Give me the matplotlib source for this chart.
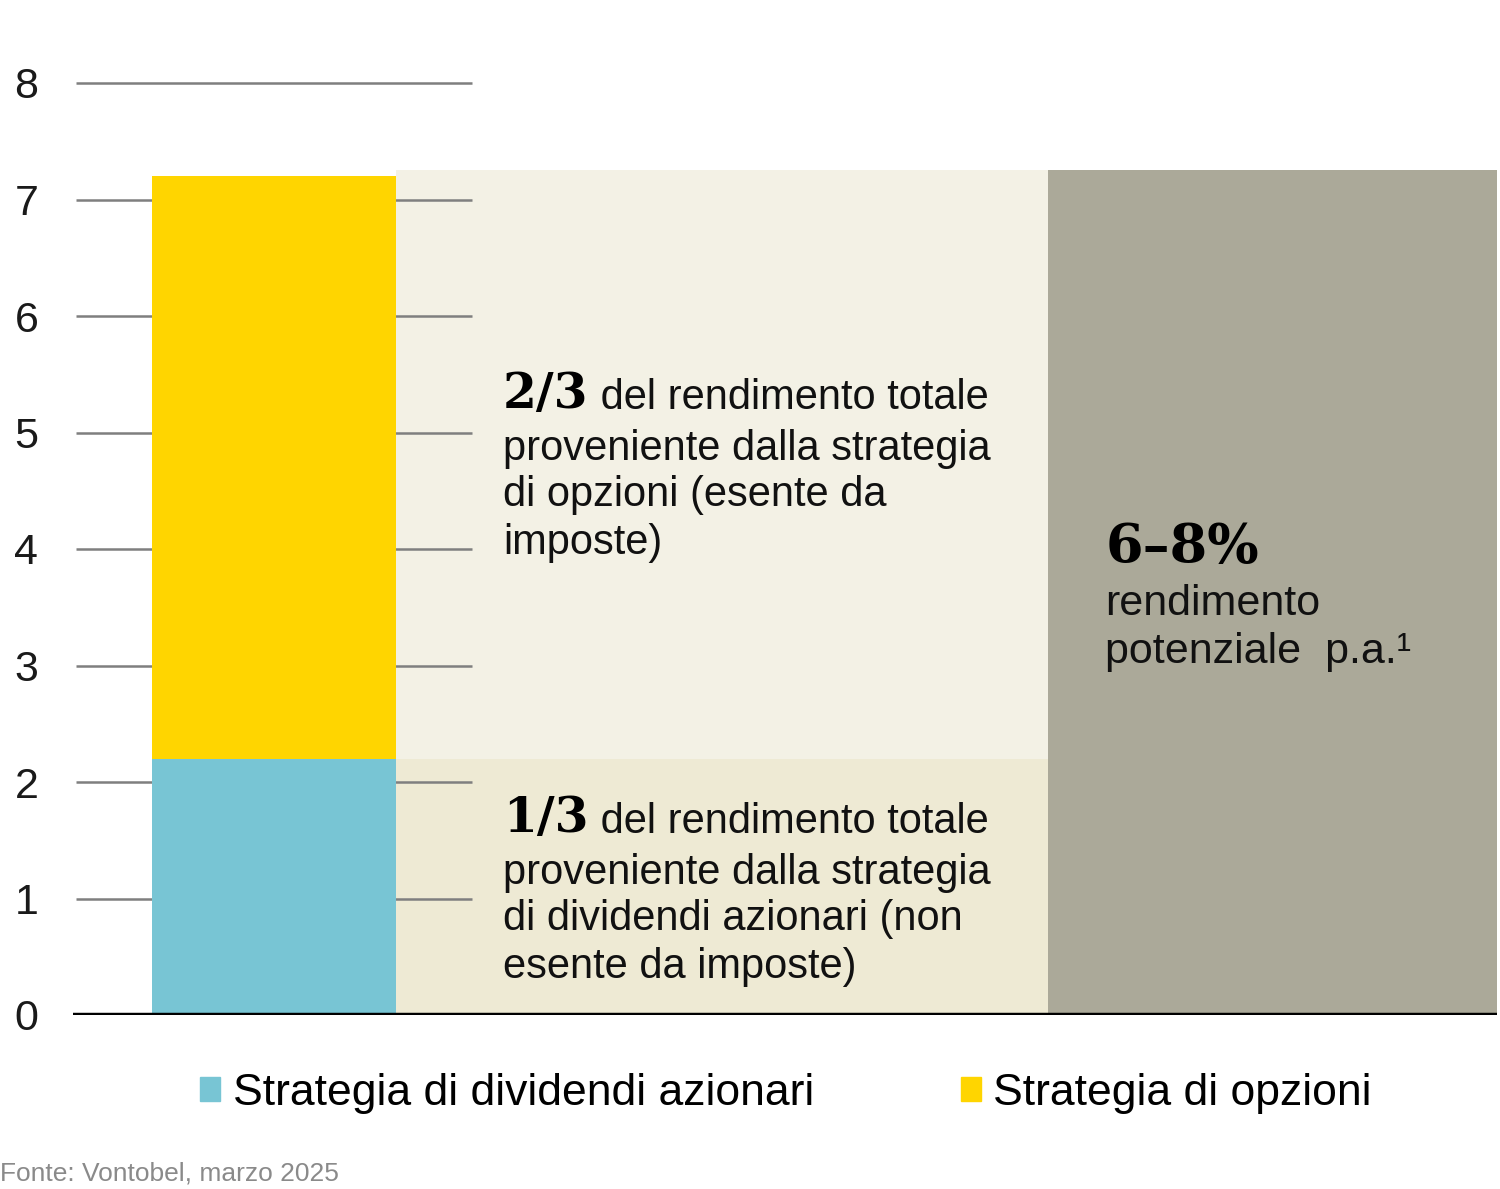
import matplotlib.pyplot as plt
from matplotlib.patches import Patch

# values
dividend = 2.2        # dividend strategy part
options = 5.0         # options strategy part
panel_low = 2.2       # lower cream panel
panel_high = 7.25     # upper cream panel / grey panel
yticks = [0, 1, 2, 3, 4, 5, 6, 7, 8]

legend_labels = ['Strategia di dividendi azionari', 'Strategia di opzioni']
block_top = ['2/3', ' del rendimento totale', 'proveniente dalla strategia',
             'di opzioni (esente da', 'imposte)']
block_low = ['1/3', ' del rendimento totale', 'proveniente dalla strategia',
             'di dividendi azionari (non', 'esente da imposte)']
grey_lines = ['6\u20138%', 'rendimento', 'potenziale  p.a.\u00b9']
source = 'Fonte: Vontobel, marzo 2025'

c_blue = '#78c5d4'
c_yellow = '#ffd500'
c_cream_hi = '#f3f1e5'
c_cream_lo = '#eeead4'
c_grey = '#aba999'

plt.rcParams['font.family'] = ['Liberation Sans', 'DejaVu Sans']

fig = plt.figure(figsize=(15, 11.89), dpi=100)
H = 1189
ax = fig.add_axes([73 / 1500, (H - 1015) / H, 1424 / 1500, 990.25 / H])
ax.set_xlim(-0.824, 5.012)
ax.set_ylim(0, 8.5)

# background panels
ax.bar(0.5, panel_high, width=2.672, align='edge', color=c_cream_hi, zorder=1)
ax.bar(0.5, panel_low, width=2.672, align='edge', color=c_cream_lo, zorder=1)
ax.bar(3.172, panel_high, width=1.84, align='edge', color=c_grey, zorder=1)

# gridlines (only on the left part)
ax.hlines(yticks[1:], -0.811, 0.811, color='#7f7f7f', linewidth=1.8, zorder=2, clip_on=False)

# stacked bar
ax.bar(0, dividend, width=1.0, color=c_blue, zorder=3)
ax.bar(0, options, bottom=dividend, width=1.0, color=c_yellow, zorder=3)

ax.axhline(0, color='black', linewidth=3.2, zorder=4)

for s in ['top', 'right', 'left', 'bottom']:
    ax.spines[s].set_visible(False)
ax.set_xticks([])
ax.set_yticks(yticks)
ax.tick_params(axis='y', length=0, pad=25, labelsize=31, labelcolor='#1a1a1a')


def write_block(lines, ys, x):
    head = ax.text(x, ys[0], lines[0], fontsize=35, fontweight='bold',
                   family='DejaVu Serif', va='baseline', ha='left', zorder=5)
    ax.annotate(lines[1], xy=(1, 0), xycoords=head, fontsize=30,
                va='bottom', ha='left', color='#111111', zorder=5)
    for txt, y in zip(lines[2:], ys[1:]):
        ax.text(x, y, txt, fontsize=30, va='baseline', ha='left',
                color='#111111', zorder=5)


write_block(block_top, [5.21, 4.764, 4.369, 3.957], 0.939)
write_block(block_low, [1.571, 1.124, 0.730, 0.318], 0.939)

ax.text(3.406, 3.88, grey_lines[0], fontsize=39, fontweight='bold',
        family='DejaVu Serif', va='baseline', ha='left', zorder=5)
ax.text(3.406, 3.433, grey_lines[1], fontsize=31, va='baseline', ha='left',
        color='#111111', zorder=5)
ax.text(3.406, 3.021, grey_lines[2], fontsize=31, va='baseline', ha='left',
        color='#111111', zorder=5)

handles = [Patch(color=c_blue), Patch(color=c_yellow)]
fig.legend(handles, legend_labels, loc='center', bbox_to_anchor=(0.524, (H - 1093) / H),
           ncol=2, frameon=False, fontsize=32, handlelength=0.45, handleheight=0.45,
           handletextpad=0.28, columnspacing=3.3, borderaxespad=0)

fig.text(0.0, (H - 1173) / H, source, fontsize=19, color='#8a8a8a', va='center', ha='left')

fig.savefig('out.png', dpi=100)
